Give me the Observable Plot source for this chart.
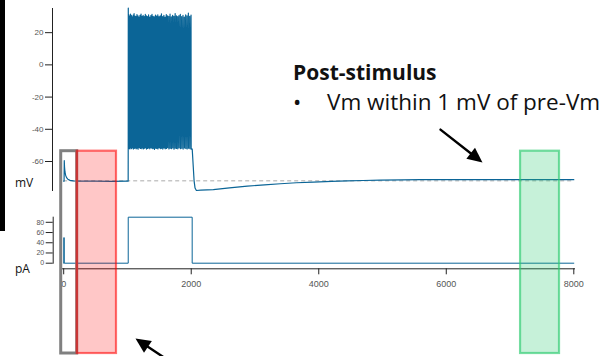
<!DOCTYPE html>
<html><head><meta charset="utf-8">
<script src="https://cdn.jsdelivr.net/npm/d3@7"></script>
<script src="https://cdn.jsdelivr.net/npm/@observablehq/plot@0.6"></script>
<style>
html,body{margin:0;padding:0;background:#fff;}
#chart{position:relative;width:610px;height:356px;overflow:hidden;background:#fff;}
#chart svg{position:absolute;left:0;top:0;}
</style></head><body><div id="chart"></div>
<script>
// ---- data ----
const xTicks = [0, 2000, 4000, 6000, 8000];
const vmTicks = [20, 0, -20, -40, -60];
const pATicks = [0, 20, 40, 60, 80];
const preVm = -72.0;

// Vm before the step (ms, mV)
const preT = [0, 6, 9, 13, 20, 30, 45, 65, 100, 150, 250, 500, 750, 1000, 1011];
const preV = [-72.2, -72.2, -59.5, -63.5, -66.5, -68.5, -70.0, -71.0, -71.7, -72.0, -72.2, -72.2, -72.3, -72.2, -72.2];
const onsetT = [1012];
const onsetV = [-46];

// spike train during the step
const spikeTimes = [1013, 1024, 1036, 1049, 1062, 1076, 1090, 1104, 1119, 1134, 1149, 1165, 1181, 1197, 1213, 1229, 1246, 1263, 1280, 1297, 1314, 1331, 1349, 1367, 1385, 1403, 1421, 1439, 1457, 1476, 1495, 1514, 1533, 1552, 1571, 1590, 1609, 1628, 1648, 1668, 1688, 1708, 1728, 1748, 1768, 1788, 1808, 1829, 1850, 1871, 1892, 1913, 1934, 1955, 1976, 1997];
const spikePeaks = [35.3, 31.0, 30.2, 31.5, 30.6, 29.8, 30.9, 31.8, 30.3, 30.0, 31.2, 30.5, 29.6, 30.8, 31.6, 30.1, 30.7, 29.9, 31.3, 30.4, 30.0, 31.0, 29.7, 30.6, 31.4, 30.2, 29.8, 30.9, 30.3, 31.1, 29.9, 30.5, 31.7, 30.0, 30.8, 29.6, 31.2, 30.4, 30.1, 31.5, 29.8, 30.7, 30.2, 31.9, 30.5, 29.9, 30.6, 31.3, 30.0, 30.8, 29.7, 31.0, 30.4, 32.1, 30.2, 30.9];
const spikeTroughs = [-50.5, -51.8, -52.2, -51.6, -52.0, -51.4, -52.3, -51.9, -51.5, -52.1, -51.7, -52.4, -51.3, -51.9, -52.0, -51.6, -52.2, -51.8, -51.5, -52.3, -51.9, -51.6, -52.1, -51.4, -52.0, -51.8, -52.5, -51.7, -51.9, -52.2, -51.5, -52.0, -51.8, -52.3, -51.6, -52.1, -51.9, -51.4, -52.2, -51.8, -52.0, -51.6, -52.4, -51.7, -51.9, -52.1, -51.5, -52.0, -51.8, -52.3, -51.6, -51.9, -52.2, -51.7, -52.0, -52.4];

// Vm after the step
const postT = [2008, 2016, 2030, 2045, 2060, 2081, 2150, 2347, 2600, 2880, 3150, 3398, 3650, 3915, 4200, 4448, 4700, 4966, 5300, 5593, 6000, 6500, 7000, 7500, 8000];
const postV = [-52.0, -52.5, -62.0, -72.0, -76.5, -78.0, -77.8, -77.4, -76.4, -75.3, -74.5, -73.8, -73.2, -72.8, -72.3, -72.0, -71.8, -71.6, -71.4, -71.3, -71.3, -71.2, -71.3, -71.2, -71.3];

// injected current (ms, pA)
const iT = [0, 2, 2, 8, 8, 1012, 1012, 2015, 2015, 8000];
const iV = [0, 0, 50, 50, 0, 0, 90, 90, 0, 0];

// highlighted analysis windows (ms)
const winName = ["test", "pre", "post"];
const winStart = [-39, 212, 7165];
const winEnd = [212, 828, 7776];

// arrows (ms, mV / ms, px)
const arrowPost = {t1: 5909, v1: -40.2, t2: 6568, v2: -60.6};
const arrowPre = {t1: 1597, y1: 358, t2: 1126, y2: 338};

// ---- build rows ----
const vm = [];
preT.forEach((t, i) => vm.push({t, v: preV[i]}));
onsetT.forEach((t, i) => vm.push({t, v: onsetV[i]}));
spikeTimes.forEach((t, i) => { vm.push({t, v: spikePeaks[i]}); vm.push({t: t + 2, v: spikeTroughs[i]}); });
postT.forEach((t, i) => vm.push({t, v: postV[i]}));
const cur = iT.map((t, i) => ({t, i: iV[i]}));
const wins = winName.map((n, k) => ({name: n, start: winStart[k], end: winEnd[k]}));

const W = 610, H = 356;
const xDomain = [0, 8000], xRange = [63.2, 573.3];
const blue = "#0b6597";
const chart = document.getElementById("chart");
const baseStyle = {background: "transparent", fontFamily: "'Liberation Sans', Arial, sans-serif", fontSize: "8px", color: "#333"};

const vmPlot = Plot.plot({
  width: W, height: H, marginLeft: 52, marginTop: 8, marginBottom: 166, marginRight: 36,
  style: baseStyle,
  x: {domain: xDomain, range: xRange, axis: null},
  y: {domain: [-78, 35], axis: null},
  marks: [
    Plot.ruleY([preVm], {x1: xDomain[0], x2: xDomain[1], stroke: "#aaaaaa", strokeDasharray: "4,3", strokeWidth: 1}),
    Plot.line(vm, {x: "t", y: "v", stroke: blue, strokeWidth: 1.2}),
    Plot.axisY({ticks: vmTicks, tickSize: 7, tickPadding: 2, label: null, fontSize: 8, tickFormat: d => String(d), fill: "#555", stroke: "#222"}),
    Plot.frame({anchor: "left", stroke: "#222"}),
    Plot.arrow([arrowPost], {x1: "t1", y1: "v1", x2: "t2", y2: "v2", headLength: 0, insetEnd: 9, stroke: "#000", strokeWidth: 2.4}),
    Plot.vector([arrowPost], {x: "t2", y: "v2", rotate: 128, length: 15, r: 7, shape: "spike", anchor: "end", fill: "#000", stroke: "none"})
  ]
});

const pAPlot = Plot.plot({
  width: W, height: H, marginLeft: 52.7, marginTop: 216.7, marginBottom: 93.3, marginRight: 36,
  style: baseStyle,
  x: {domain: xDomain, range: xRange, axis: null},
  y: {domain: [0, 90], axis: null},
  marks: [
    Plot.line(cur, {x: "t", y: "i", stroke: blue, strokeWidth: 1}),
    Plot.axisY({ticks: pATicks, tickSize: 7, tickPadding: 2, label: null, fontSize: 7, tickFormat: d => String(d), fill: "#555", stroke: "#222"}),
    Plot.frame({anchor: "left", stroke: "#222"})
  ]
});

const annoPlot = Plot.plot({
  width: W, height: H, marginLeft: 62, marginTop: 0, marginBottom: 87.7, marginRight: 36,
  style: baseStyle,
  x: {domain: xDomain, range: xRange, axis: null},
  y: {type: "identity", axis: null},
  marks: [
    Plot.frame({anchor: "bottom", stroke: "#222"}),
    Plot.axisX({ticks: xTicks, tickSize: 6, tickPadding: 6, label: null, fontSize: 9, tickFormat: d => String(d), fill: "#555", stroke: "#222"}),
    Plot.rect(wins.filter(d => d.name === "test"), {x1: "start", x2: "end", y1: 150.7, y2: 353, fill: "none", stroke: "#808080", strokeWidth: 3, inset: 0}),
    Plot.rect(wins.filter(d => d.name === "pre"), {x1: "start", x2: "end", y1: 150.7, y2: 353, fill: "#ff0000", fillOpacity: 0.22, stroke: "#ff0000", strokeOpacity: 0.56, strokeWidth: 2.2, inset: 0}),
    Plot.rect(wins.filter(d => d.name === "post"), {x1: "start", x2: "end", y1: 150.7, y2: 353, fill: "#2ecc71", fillOpacity: 0.27, stroke: "#2ecc71", strokeOpacity: 0.66, strokeWidth: 2.2, inset: 0}),
    Plot.arrow([arrowPre], {x1: "t1", y1: "y1", x2: "t2", y2: "y2", headLength: 0, insetEnd: 9, stroke: "#000", strokeWidth: 2.4}),
    Plot.vector([arrowPre], {x: "t2", y: "y2", rotate: -56, length: 15, r: 7, shape: "spike", anchor: "end", fill: "#000", stroke: "none"})
  ]
});

chart.append(vmPlot, pAPlot, annoPlot);

// text annotations
const txt = d3.create("svg").attr("width", W).attr("height", H);
txt.append("rect").attr("x", 0).attr("y", 0).attr("width", 5).attr("height", 231).attr("fill", "#000");
const t = (s, x, y, size, weight) => txt.append("text").attr("x", x).attr("y", y)
  .attr("font-family", "'Open Sans', sans-serif").attr("font-size", size).attr("font-weight", weight || 400)
  .attr("fill", "#111").text(s);
t("Post-stimulus", 293, 79.5, 21, 700);
t("\u2022", 293, 110, 22);
t("Vm within 1 mV of pre-Vm", 327, 110, 22.5);
t("mV", 15, 187, 12);
t("pA", 15, 272.5, 12);
chart.append(txt.node());
</script></body></html>
